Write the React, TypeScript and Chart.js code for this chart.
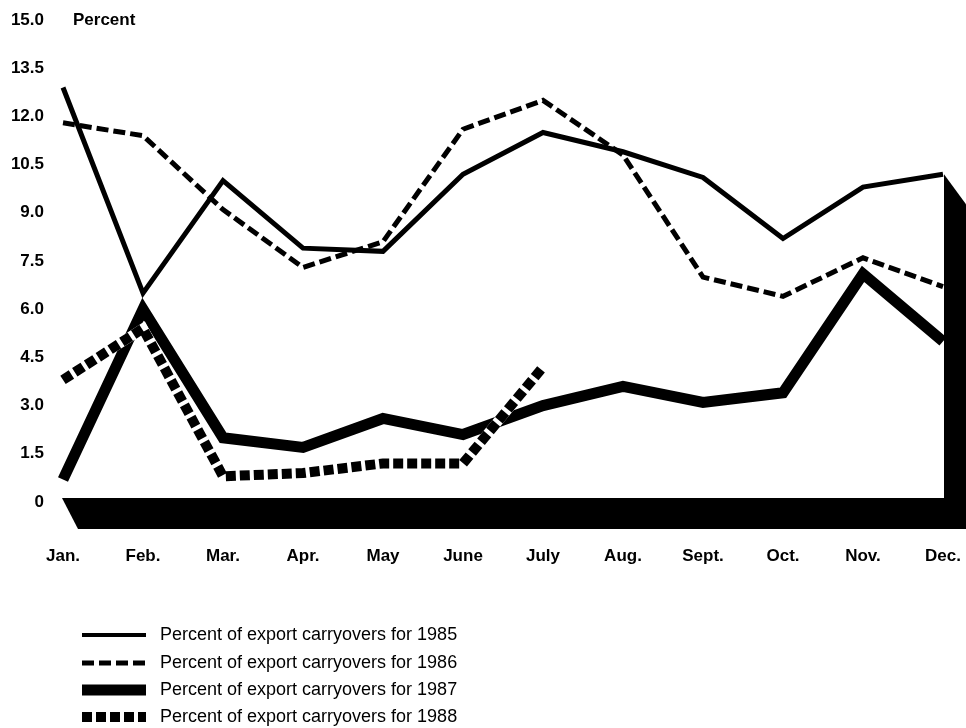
import React, { useEffect, useRef } from "react";
import { Chart, registerables } from "chart.js";

Chart.register(...registerables);

const months = ["Jan.", "Feb.", "Mar.", "Apr.", "May", "June", "July", "Aug.", "Sept.", "Oct.", "Nov.", "Dec."];
const yTicks = [0, 1.5, 3, 4.5, 6, 7.5, 9, 10.5, 12, 13.5, 15];
const s1985 = [12.9, 6.5, 10.0, 7.9, 7.8, 10.2, 11.5, 10.9, 10.1, 8.2, 9.8, 10.2];
const s1986 = [11.8, 11.4, 9.1, 7.3, 8.1, 11.6, 12.5, 10.8, 7.0, 6.4, 7.6, 6.7];
const s1987 = [0.7, 6.0, 2.0, 1.7, 2.6, 2.1, 3.0, 3.6, 3.1, 3.4, 7.1, 5.0];
const s1988 = [3.8, 5.4, 0.8, 0.9, 1.2, 1.2, 4.2, null, null, null, null, null];
const seriesLabels = [
  "Percent of export carryovers for 1985",
  "Percent of export carryovers for 1986",
  "Percent of export carryovers for 1987",
  "Percent of export carryovers for 1988",
];
const unitLabel = "Percent";

const FONT = "'Liberation Sans', Arial, Helvetica, sans-serif";

const decorPlugin = {
  id: "decor",
  beforeDatasetsDraw(chart: any) {
    const { ctx, scales } = chart;
    const x = scales.x;
    const y = scales.y;
    const x0 = x.getPixelForValue(0);
    const x1 = x.getPixelForValue(months.length - 1);
    const y0 = y.getPixelForValue(0);
    const top = y0 - 4;
    const depthY = 31;
    const wallTop = y.getPixelForValue(s1985[s1985.length - 1]);
    ctx.save();
    ctx.fillStyle = "#000";
    // floor
    ctx.beginPath();
    ctx.moveTo(x0 - 1, top);
    ctx.lineTo(x1 + 2, top);
    ctx.lineTo(x1 + 23, top + depthY);
    ctx.lineTo(x0 + 15, top + depthY);
    ctx.closePath();
    ctx.fill();
    // right wall
    ctx.beginPath();
    ctx.moveTo(x1 + 1, wallTop);
    ctx.lineTo(x1 + 23, wallTop + 30);
    ctx.lineTo(x1 + 23, top + depthY);
    ctx.lineTo(x1 + 1, top + depthY);
    ctx.closePath();
    ctx.fill();
    ctx.restore();
  },
  beforeDatasetDraw(chart: any, args: any) {
    // opaque white gaps under the 1988 dashed ribbon
    if (args.index !== 3) return;
    const meta = chart.getDatasetMeta(3);
    const { ctx } = chart;
    ctx.save();
    ctx.strokeStyle = "#fff";
    ctx.lineWidth = 10;
    ctx.lineJoin = "miter";
    ctx.beginPath();
    let started = false;
    meta.data.forEach((p: any, i: number) => {
      if (s1988[i] == null) return;
      if (!started) { ctx.moveTo(p.x, p.y); started = true; } else ctx.lineTo(p.x, p.y);
    });
    ctx.stroke();
    ctx.restore();
  },
  afterDraw(chart: any) {
    const { ctx, scales } = chart;
    ctx.save();
    ctx.fillStyle = "#000";
    ctx.font = `bold 17px ${FONT}`;
    ctx.textBaseline = "middle";
    ctx.textAlign = "left";
    ctx.fillText(unitLabel, 73, scales.y.getPixelForValue(15));

    // legend
    const rows = [635, 663, 690, 717];
    chart.data.datasets.forEach((ds: any, i: number) => {
      const ry = rows[i];
      ctx.save();
      ctx.strokeStyle = "#000";
      ctx.lineWidth = i === 0 ? 4 : ds.borderWidth;
      ctx.setLineDash(ds.borderDash || []);
      ctx.beginPath();
      ctx.moveTo(82, ry);
      ctx.lineTo(146, ry);
      ctx.stroke();
      ctx.restore();
      ctx.font = `18px ${FONT}`;
      ctx.fillStyle = "#000";
      ctx.textBaseline = "middle";
      ctx.textAlign = "left";
      ctx.fillText(ds.label, 160, ry);
    });
    ctx.restore();
  },
};

export default function App() {
  const ref = useRef<HTMLCanvasElement | null>(null);
  useEffect(() => {
    if (!ref.current) return;
    const common = {
      borderColor: "#000",
      backgroundColor: "#000",
      pointRadius: 0,
      tension: 0,
      fill: false,
      borderJoinStyle: "miter" as const,
      borderCapStyle: "butt" as const,
      clip: false as const,
      spanGaps: false,
    };
    const chart = new Chart(ref.current, {
      type: "line",
      data: {
        labels: months,
        datasets: [
          { ...common, label: seriesLabels[0], data: s1985, borderWidth: 5, order: 1 },
          { ...common, label: seriesLabels[1], data: s1986, borderWidth: 5, borderDash: [12, 5], order: 2 },
          { ...common, label: seriesLabels[2], data: s1987, borderWidth: 11, order: 4 },
          { ...common, label: seriesLabels[3], data: s1988, borderWidth: 10, borderDash: [10, 4], order: 3 },
        ],
      },
      options: {
        responsive: false,
        animation: false,
        events: [],
        layout: { padding: { top: 20, right: 23, left: 0, bottom: 0 } },
        plugins: {
          legend: { display: false },
          tooltip: { enabled: false },
          title: { display: false },
        },
        scales: {
          x: {
            type: "category",
            offset: false,
            grid: { display: false, drawTicks: false },
            border: { display: false },
            ticks: {
              autoSkip: false,
              maxRotation: 0,
              color: "#000",
              padding: 44,
              font: { family: FONT, size: 17, weight: "bold" },
            },
            afterFit: (s: any) => {
              s.height = 226;
              s.paddingLeft = 0;
              s.paddingRight = 0;
            },
          },
          y: {
            min: 0,
            max: 15,
            grid: { display: false, drawTicks: false },
            border: { display: false },
            afterBuildTicks: (s: any) => { s.ticks = yTicks.map((v) => ({ value: v })); },
            ticks: {
              color: "#000",
              padding: 19,
              font: { family: FONT, size: 17, weight: "bold" },
              callback: (v: any) => (Number(v) === 0 ? "0" : Number(v).toFixed(1)),
            },
            afterFit: (s: any) => {
              s.width = 63;
              s.paddingTop = 0;
              s.paddingBottom = 0;
            },
          },
        },
      },
      plugins: [decorPlugin],
    });
    return () => chart.destroy();
  }, []);
  return (
    <div style={{ position: "absolute", left: 0, top: 0, width: 966, height: 728, background: "#fff" }}>
      <canvas ref={ref} width={966} height={728} style={{ display: "block" }} />
    </div>
  );
}
